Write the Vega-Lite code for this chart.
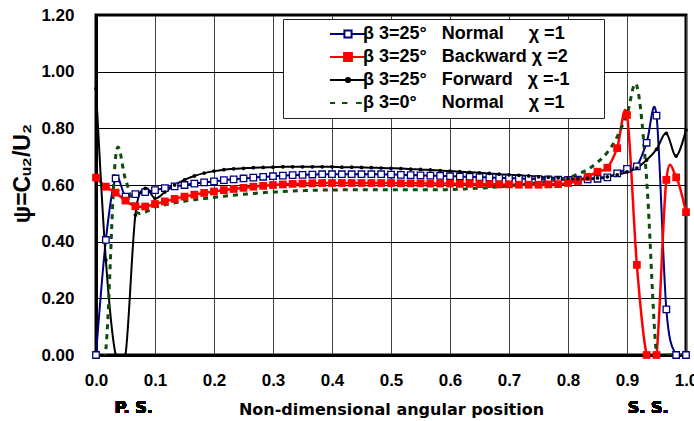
{
  "$schema": "https://vega.github.io/schema/vega-lite/v6.json",
  "width": 590,
  "height": 340,
  "autosize": {"type": "none"},
  "padding": {"left": 96, "top": 15, "right": 8, "bottom": 66},
  "background": "white",
  "config": {
    "font": "Liberation Sans",
    "view": {"stroke": "black", "strokeWidth": 3},
    "axis": {
      "labelFont": "Liberation Sans",
      "labelFontWeight": "bold",
      "labelColor": "black",
      "titleColor": "black",
      "titleFontWeight": "bold",
      "domainColor": "black",
      "domainWidth": 3,
      "ticks": false,
      "labelFlush": false,
      "grid": true,
      "gridOpacity": 1
    }
  },
  "datasets": {
    "psi": [
      {"s": "N25", "x": 0, "y": 0.0},
      {"s": "N25", "x": 0.0167, "y": 0.406},
      {"s": "N25", "x": 0.0333, "y": 0.623},
      {"s": "N25", "x": 0.05, "y": 0.559},
      {"s": "N25", "x": 0.0667, "y": 0.568},
      {"s": "N25", "x": 0.0833, "y": 0.575},
      {"s": "N25", "x": 0.1, "y": 0.582},
      {"s": "N25", "x": 0.1167, "y": 0.589},
      {"s": "N25", "x": 0.1333, "y": 0.595},
      {"s": "N25", "x": 0.15, "y": 0.6},
      {"s": "N25", "x": 0.1667, "y": 0.605},
      {"s": "N25", "x": 0.1833, "y": 0.609},
      {"s": "N25", "x": 0.2, "y": 0.613},
      {"s": "N25", "x": 0.2167, "y": 0.617},
      {"s": "N25", "x": 0.2333, "y": 0.62},
      {"s": "N25", "x": 0.25, "y": 0.623},
      {"s": "N25", "x": 0.2667, "y": 0.626},
      {"s": "N25", "x": 0.2833, "y": 0.629},
      {"s": "N25", "x": 0.3, "y": 0.631},
      {"s": "N25", "x": 0.3167, "y": 0.633},
      {"s": "N25", "x": 0.3333, "y": 0.635},
      {"s": "N25", "x": 0.35, "y": 0.636},
      {"s": "N25", "x": 0.3667, "y": 0.637},
      {"s": "N25", "x": 0.3833, "y": 0.638},
      {"s": "N25", "x": 0.4, "y": 0.638},
      {"s": "N25", "x": 0.4167, "y": 0.638},
      {"s": "N25", "x": 0.4333, "y": 0.638},
      {"s": "N25", "x": 0.45, "y": 0.638},
      {"s": "N25", "x": 0.4667, "y": 0.638},
      {"s": "N25", "x": 0.4833, "y": 0.638},
      {"s": "N25", "x": 0.5, "y": 0.637},
      {"s": "N25", "x": 0.5167, "y": 0.636},
      {"s": "N25", "x": 0.5333, "y": 0.635},
      {"s": "N25", "x": 0.55, "y": 0.634},
      {"s": "N25", "x": 0.5667, "y": 0.633},
      {"s": "N25", "x": 0.5833, "y": 0.632},
      {"s": "N25", "x": 0.6, "y": 0.631},
      {"s": "N25", "x": 0.6167, "y": 0.63},
      {"s": "N25", "x": 0.6333, "y": 0.629},
      {"s": "N25", "x": 0.65, "y": 0.628},
      {"s": "N25", "x": 0.6667, "y": 0.627},
      {"s": "N25", "x": 0.6833, "y": 0.625},
      {"s": "N25", "x": 0.7, "y": 0.624},
      {"s": "N25", "x": 0.7167, "y": 0.623},
      {"s": "N25", "x": 0.7333, "y": 0.622},
      {"s": "N25", "x": 0.75, "y": 0.621},
      {"s": "N25", "x": 0.7667, "y": 0.62},
      {"s": "N25", "x": 0.7833, "y": 0.619},
      {"s": "N25", "x": 0.8, "y": 0.618},
      {"s": "N25", "x": 0.8167, "y": 0.619},
      {"s": "N25", "x": 0.8333, "y": 0.62},
      {"s": "N25", "x": 0.85, "y": 0.622},
      {"s": "N25", "x": 0.8667, "y": 0.627},
      {"s": "N25", "x": 0.8833, "y": 0.641},
      {"s": "N25", "x": 0.9, "y": 0.657},
      {"s": "N25", "x": 0.9167, "y": 0.666},
      {"s": "N25", "x": 0.9333, "y": 0.749},
      {"s": "N25", "x": 0.95, "y": 0.845},
      {"s": "N25", "x": 0.9667, "y": 0.161},
      {"s": "N25", "x": 0.9833, "y": 0.0},
      {"s": "N25", "x": 1.0, "y": 0.0},

      {"s": "B25", "x": 0, "y": 0.626},
      {"s": "B25", "x": 0.0167, "y": 0.594},
      {"s": "B25", "x": 0.0333, "y": 0.573},
      {"s": "B25", "x": 0.05, "y": 0.545},
      {"s": "B25", "x": 0.0667, "y": 0.525},
      {"s": "B25", "x": 0.0833, "y": 0.524},
      {"s": "B25", "x": 0.1, "y": 0.533},
      {"s": "B25", "x": 0.1167, "y": 0.542},
      {"s": "B25", "x": 0.1333, "y": 0.551},
      {"s": "B25", "x": 0.15, "y": 0.559},
      {"s": "B25", "x": 0.1667, "y": 0.566},
      {"s": "B25", "x": 0.1833, "y": 0.572},
      {"s": "B25", "x": 0.2, "y": 0.577},
      {"s": "B25", "x": 0.2167, "y": 0.582},
      {"s": "B25", "x": 0.2333, "y": 0.586},
      {"s": "B25", "x": 0.25, "y": 0.59},
      {"s": "B25", "x": 0.2667, "y": 0.594},
      {"s": "B25", "x": 0.2833, "y": 0.597},
      {"s": "B25", "x": 0.3, "y": 0.6},
      {"s": "B25", "x": 0.3167, "y": 0.602},
      {"s": "B25", "x": 0.3333, "y": 0.604},
      {"s": "B25", "x": 0.35, "y": 0.605},
      {"s": "B25", "x": 0.3667, "y": 0.606},
      {"s": "B25", "x": 0.3833, "y": 0.607},
      {"s": "B25", "x": 0.4, "y": 0.607},
      {"s": "B25", "x": 0.4167, "y": 0.607},
      {"s": "B25", "x": 0.4333, "y": 0.607},
      {"s": "B25", "x": 0.45, "y": 0.607},
      {"s": "B25", "x": 0.4667, "y": 0.607},
      {"s": "B25", "x": 0.4833, "y": 0.607},
      {"s": "B25", "x": 0.5, "y": 0.607},
      {"s": "B25", "x": 0.5167, "y": 0.606},
      {"s": "B25", "x": 0.5333, "y": 0.606},
      {"s": "B25", "x": 0.55, "y": 0.606},
      {"s": "B25", "x": 0.5667, "y": 0.605},
      {"s": "B25", "x": 0.5833, "y": 0.605},
      {"s": "B25", "x": 0.6, "y": 0.605},
      {"s": "B25", "x": 0.6167, "y": 0.604},
      {"s": "B25", "x": 0.6333, "y": 0.604},
      {"s": "B25", "x": 0.65, "y": 0.603},
      {"s": "B25", "x": 0.6667, "y": 0.603},
      {"s": "B25", "x": 0.6833, "y": 0.602},
      {"s": "B25", "x": 0.7, "y": 0.602},
      {"s": "B25", "x": 0.7167, "y": 0.601},
      {"s": "B25", "x": 0.7333, "y": 0.601},
      {"s": "B25", "x": 0.75, "y": 0.601},
      {"s": "B25", "x": 0.7667, "y": 0.602},
      {"s": "B25", "x": 0.7833, "y": 0.603},
      {"s": "B25", "x": 0.8, "y": 0.607},
      {"s": "B25", "x": 0.8167, "y": 0.614},
      {"s": "B25", "x": 0.8333, "y": 0.629},
      {"s": "B25", "x": 0.85, "y": 0.647},
      {"s": "B25", "x": 0.8667, "y": 0.661},
      {"s": "B25", "x": 0.8833, "y": 0.73},
      {"s": "B25", "x": 0.9, "y": 0.847},
      {"s": "B25", "x": 0.9167, "y": 0.318},
      {"s": "B25", "x": 0.9333, "y": 0.0},
      {"s": "B25", "x": 0.95, "y": 0.0},
      {"s": "B25", "x": 0.9667, "y": 0.618},
      {"s": "B25", "x": 0.9833, "y": 0.627},
      {"s": "B25", "x": 1.0, "y": 0.504},

      {"s": "F25", "x": 0, "y": 0.941},
      {"s": "F25", "x": 0.0167, "y": 0.335},
      {"s": "F25", "x": 0.0333, "y": 0.0},
      {"s": "F25", "x": 0.05, "y": 0.0},
      {"s": "F25", "x": 0.0667, "y": 0.494},
      {"s": "F25", "x": 0.0833, "y": 0.588},
      {"s": "F25", "x": 0.1, "y": 0.553},
      {"s": "F25", "x": 0.1167, "y": 0.575},
      {"s": "F25", "x": 0.1333, "y": 0.6},
      {"s": "F25", "x": 0.15, "y": 0.618},
      {"s": "F25", "x": 0.1667, "y": 0.632},
      {"s": "F25", "x": 0.1833, "y": 0.642},
      {"s": "F25", "x": 0.2, "y": 0.649},
      {"s": "F25", "x": 0.2167, "y": 0.654},
      {"s": "F25", "x": 0.2333, "y": 0.657},
      {"s": "F25", "x": 0.25, "y": 0.659},
      {"s": "F25", "x": 0.2667, "y": 0.661},
      {"s": "F25", "x": 0.2833, "y": 0.662},
      {"s": "F25", "x": 0.3, "y": 0.663},
      {"s": "F25", "x": 0.3167, "y": 0.664},
      {"s": "F25", "x": 0.3333, "y": 0.664},
      {"s": "F25", "x": 0.35, "y": 0.664},
      {"s": "F25", "x": 0.3667, "y": 0.664},
      {"s": "F25", "x": 0.3833, "y": 0.664},
      {"s": "F25", "x": 0.4, "y": 0.664},
      {"s": "F25", "x": 0.4167, "y": 0.663},
      {"s": "F25", "x": 0.4333, "y": 0.663},
      {"s": "F25", "x": 0.45, "y": 0.662},
      {"s": "F25", "x": 0.4667, "y": 0.661},
      {"s": "F25", "x": 0.4833, "y": 0.66},
      {"s": "F25", "x": 0.5, "y": 0.659},
      {"s": "F25", "x": 0.5167, "y": 0.658},
      {"s": "F25", "x": 0.5333, "y": 0.656},
      {"s": "F25", "x": 0.55, "y": 0.655},
      {"s": "F25", "x": 0.5667, "y": 0.653},
      {"s": "F25", "x": 0.5833, "y": 0.651},
      {"s": "F25", "x": 0.6, "y": 0.649},
      {"s": "F25", "x": 0.6167, "y": 0.647},
      {"s": "F25", "x": 0.6333, "y": 0.645},
      {"s": "F25", "x": 0.65, "y": 0.643},
      {"s": "F25", "x": 0.6667, "y": 0.641},
      {"s": "F25", "x": 0.6833, "y": 0.638},
      {"s": "F25", "x": 0.7, "y": 0.636},
      {"s": "F25", "x": 0.7167, "y": 0.634},
      {"s": "F25", "x": 0.7333, "y": 0.632},
      {"s": "F25", "x": 0.75, "y": 0.629},
      {"s": "F25", "x": 0.7667, "y": 0.627},
      {"s": "F25", "x": 0.7833, "y": 0.625},
      {"s": "F25", "x": 0.8, "y": 0.623},
      {"s": "F25", "x": 0.8167, "y": 0.622},
      {"s": "F25", "x": 0.8333, "y": 0.623},
      {"s": "F25", "x": 0.85, "y": 0.625},
      {"s": "F25", "x": 0.8667, "y": 0.629},
      {"s": "F25", "x": 0.8833, "y": 0.636},
      {"s": "F25", "x": 0.9, "y": 0.646},
      {"s": "F25", "x": 0.9167, "y": 0.66},
      {"s": "F25", "x": 0.9333, "y": 0.688},
      {"s": "F25", "x": 0.95, "y": 0.726},
      {"s": "F25", "x": 0.9667, "y": 0.782},
      {"s": "F25", "x": 0.9833, "y": 0.702},
      {"s": "F25", "x": 1.0, "y": 0.794},

      {"s": "N0", "x": 0, "y": 0.0},
      {"s": "N0", "x": 0.0167, "y": 0.02},
      {"s": "N0", "x": 0.0333, "y": 0.7},
      {"s": "N0", "x": 0.05, "y": 0.62},
      {"s": "N0", "x": 0.0667, "y": 0.51},
      {"s": "N0", "x": 0.0833, "y": 0.505},
      {"s": "N0", "x": 0.1, "y": 0.522},
      {"s": "N0", "x": 0.1167, "y": 0.53},
      {"s": "N0", "x": 0.1333, "y": 0.537},
      {"s": "N0", "x": 0.15, "y": 0.543},
      {"s": "N0", "x": 0.1667, "y": 0.548},
      {"s": "N0", "x": 0.1833, "y": 0.552},
      {"s": "N0", "x": 0.2, "y": 0.556},
      {"s": "N0", "x": 0.2167, "y": 0.56},
      {"s": "N0", "x": 0.2333, "y": 0.564},
      {"s": "N0", "x": 0.25, "y": 0.567},
      {"s": "N0", "x": 0.2667, "y": 0.57},
      {"s": "N0", "x": 0.2833, "y": 0.573},
      {"s": "N0", "x": 0.3, "y": 0.575},
      {"s": "N0", "x": 0.3167, "y": 0.577},
      {"s": "N0", "x": 0.3333, "y": 0.579},
      {"s": "N0", "x": 0.35, "y": 0.58},
      {"s": "N0", "x": 0.3667, "y": 0.581},
      {"s": "N0", "x": 0.3833, "y": 0.582},
      {"s": "N0", "x": 0.4, "y": 0.582},
      {"s": "N0", "x": 0.4167, "y": 0.583},
      {"s": "N0", "x": 0.4333, "y": 0.583},
      {"s": "N0", "x": 0.45, "y": 0.583},
      {"s": "N0", "x": 0.4667, "y": 0.583},
      {"s": "N0", "x": 0.4833, "y": 0.583},
      {"s": "N0", "x": 0.5, "y": 0.583},
      {"s": "N0", "x": 0.5167, "y": 0.583},
      {"s": "N0", "x": 0.5333, "y": 0.583},
      {"s": "N0", "x": 0.55, "y": 0.583},
      {"s": "N0", "x": 0.5667, "y": 0.583},
      {"s": "N0", "x": 0.5833, "y": 0.583},
      {"s": "N0", "x": 0.6, "y": 0.584},
      {"s": "N0", "x": 0.6167, "y": 0.585},
      {"s": "N0", "x": 0.6333, "y": 0.587},
      {"s": "N0", "x": 0.65, "y": 0.589},
      {"s": "N0", "x": 0.6667, "y": 0.591},
      {"s": "N0", "x": 0.6833, "y": 0.594},
      {"s": "N0", "x": 0.7, "y": 0.597},
      {"s": "N0", "x": 0.7167, "y": 0.6},
      {"s": "N0", "x": 0.7333, "y": 0.604},
      {"s": "N0", "x": 0.75, "y": 0.608},
      {"s": "N0", "x": 0.7667, "y": 0.613},
      {"s": "N0", "x": 0.7833, "y": 0.619},
      {"s": "N0", "x": 0.8, "y": 0.626},
      {"s": "N0", "x": 0.8167, "y": 0.638},
      {"s": "N0", "x": 0.8333, "y": 0.655},
      {"s": "N0", "x": 0.85, "y": 0.68},
      {"s": "N0", "x": 0.8667, "y": 0.715},
      {"s": "N0", "x": 0.8833, "y": 0.77},
      {"s": "N0", "x": 0.9, "y": 0.85},
      {"s": "N0", "x": 0.9167, "y": 0.95},
      {"s": "N0", "x": 0.9333, "y": 0.62},
      {"s": "N0", "x": 0.95, "y": 0.0},
      {"s": "N0", "x": 0.9667, "y": 0.0},
      {"s": "N0", "x": 0.9833, "y": 0.0},
      {"s": "N0", "x": 1.0, "y": 0.0}
    ]
  },
  "data": {"name": "psi"},
  "encoding": {
    "x": {
      "field": "x",
      "type": "quantitative",
      "scale": {"domain": [0, 1], "nice": false, "zero": false},
      "axis": {
        "values": [0, 0.1, 0.2, 0.3, 0.4, 0.5, 0.6, 0.7, 0.8, 0.9, 1.0],
        "format": ".1f",
        "labelFontSize": 17,
        "labelPadding": 17,
        "gridColor": "#404040",
        "gridWidth": 1,
        "title": "Non-dimensional angular position",
        "titleFont": "DejaVu Sans",
        "titleFontSize": 16,
        "titlePadding": 13
      }
    },
    "y": {
      "field": "y",
      "type": "quantitative",
      "scale": {"domain": [0, 1.2], "nice": false, "zero": false},
      "axis": {
        "values": [0, 0.2, 0.4, 0.6, 0.8, 1.0, 1.2],
        "format": ".2f",
        "labelFontSize": 17,
        "labelPadding": 22,
        "gridColor": "black",
        "gridWidth": 1,
        "title": "ψ=Cᵤ₂/U₂",
        "titleFont": "Liberation Sans",
        "titleFontSize": 23,
        "titleAngle": -90,
        "titleAlign": "center",
        "titleBaseline": "middle",
        "titleX": -74,
        "titleY": 158
      }
    }
  },
  "layer": [
    {
      "transform": [{"filter": "datum.s === 'N25'"}],
      "mark": {"type": "line", "interpolate": "cardinal", "clip": true, "stroke": "#000080", "strokeWidth": 2}
    },
    {
      "transform": [{"filter": "datum.s === 'B25'"}],
      "mark": {"type": "line", "interpolate": "cardinal", "clip": true, "stroke": "#ff0000", "strokeWidth": 2.5}
    },
    {
      "transform": [{"filter": "datum.s === 'F25'"}],
      "mark": {"type": "line", "interpolate": "cardinal", "clip": true, "stroke": "#000000", "strokeWidth": 2}
    },
    {
      "transform": [{"filter": "datum.s === 'N0'"}],
      "mark": {"type": "line", "interpolate": "cardinal", "clip": true, "stroke": "#0f4d0f", "strokeWidth": 3, "strokeDash": [5, 5]}
    },
    {
      "transform": [{"filter": "datum.s === 'N25'"}],
      "mark": {"type": "point", "shape": "square", "size": 42, "filled": true, "fill": "white", "stroke": "#000080", "strokeWidth": 1.3, "opacity": 1}
    },
    {
      "transform": [{"filter": "datum.s === 'B25'"}],
      "mark": {"type": "point", "shape": "square", "size": 60, "filled": true, "fill": "#ff0000", "strokeWidth": 0, "opacity": 1}
    },
    {
      "transform": [{"filter": "datum.s === 'F25'"}],
      "mark": {"type": "point", "shape": "circle", "size": 14, "filled": true, "fill": "#000000", "strokeWidth": 0, "opacity": 1}
    },
    {
      "transform": [{"filter": "false"}],
      "mark": {"type": "point", "size": 144, "filled": false, "strokeWidth": 2, "opacity": 1},
      "encoding": {
        "color": {
          "field": "s",
          "type": "nominal",
          "scale": {"domain": ["N25", "B25", "F25", "N0"], "range": ["#000080", "#ff0000", "#000000", "#0f4d0f"]},
          "legend": {
            "title": null,
            "orient": "none",
            "legendX": 187,
            "legendY": 4,
            "padding": 6,
            "symbolOffset": 50,
            "symbolSize": 144,
            "symbolStrokeWidth": 2,
            "labelOffset": 6,
            "labelFont": "Liberation Sans",
            "labelFontSize": 18,
            "labelFontWeight": "bold",
            "labelColor": "black",
            "labelLimit": 400,
            "rowPadding": 5,
            "strokeColor": "#222222",
            "fillColor": "white",
            "labelExpr": "datum.value === 'N25' ? 'β 3=25°\u00a0\u00a0\u00a0Normal\u00a0\u00a0\u00a0\u00a0\u00a0χ =1' : datum.value === 'B25' ? 'β 3=25°\u00a0\u00a0\u00a0Backward\u00a0χ =2\u00a0\u00a0\u00a0\u00a0\u00a0\u00a0\u200b' : datum.value === 'F25' ? 'β 3=25°\u00a0\u00a0\u00a0Forward\u00a0\u00a0\u00a0χ =-1' : 'β 3=0°\u00a0\u00a0\u00a0\u00a0\u00a0Normal\u00a0\u00a0\u00a0\u00a0\u00a0χ =1'"
          }
        },
        "shape": {
          "field": "s",
          "type": "nominal",
          "scale": {
            "domain": ["N25", "B25", "F25", "N0"],
            "range": [
              "M-3,0H-0.6M0.6,0H3M-0.6,-0.6H0.6V0.6H-0.6Z",
              "M-3,0H3M-0.65,-0.65H0.65V0.65H-0.65Z",
              "M-3,0H3M0.35,0A0.35,0.35,0,1,1,-0.35,0A0.35,0.35,0,1,1,0.35,0Z",
              "M-3,0H-2.15M-1,0H-0.1M1.35,0H2.3"
            ]
          }
        },
        "fill": {
          "field": "s",
          "type": "nominal",
          "scale": {"domain": ["N25", "B25", "F25", "N0"], "range": ["white", "#ff0000", "#000000", "transparent"]}
        }
      }
    },
    {
      "mark": {"type": "text", "font": "DejaVu Sans", "fontSize": 16, "fontWeight": "bold", "baseline": "middle", "align": "center", "fill": "black"},
      "encoding": {
        "x": {"datum": 0.064},
        "y": {"datum": -0.187},
        "text": {"value": "P. S."}
      }
    },
    {
      "mark": {"type": "text", "font": "DejaVu Sans", "fontSize": 16, "fontWeight": "bold", "baseline": "middle", "align": "center", "fill": "black"},
      "encoding": {
        "x": {"datum": 0.936},
        "y": {"datum": -0.187},
        "text": {"value": "S. S."}
      }
    }
  ]
}
